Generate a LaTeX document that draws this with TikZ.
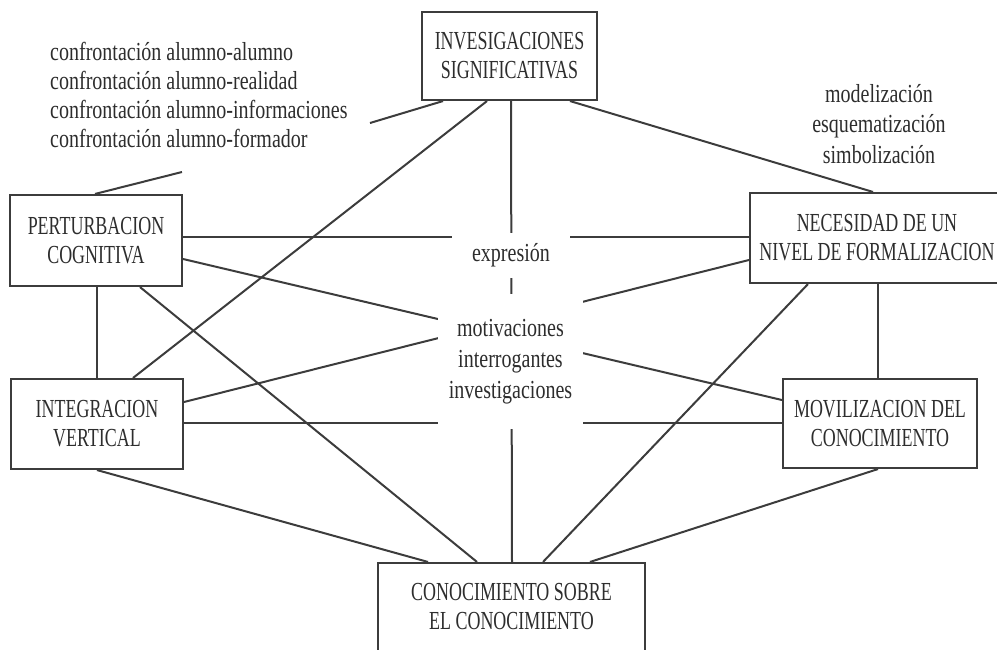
\documentclass[tikz,border=0pt]{standalone}
\usepackage{fontspec}
\setmainfont{Liberation Serif}
\newfontfamily\capsfont{Liberation Serif}[FakeStretch=0.69]
\newfontfamily\lowfont{Liberation Serif}[FakeStretch=0.77]
\definecolor{ink}{RGB}{45,45,45}
\definecolor{linec}{RGB}{60,60,60}
\pgfdeclarelayer{bg}
\pgfsetlayers{bg,main}
\begin{document}
\begin{tikzpicture}[x=1pt,y=-1pt,
  box/.style={draw=linec, line width=2.1pt, align=center, text=ink, inner sep=0pt,
    font=\capsfont\fontsize{26}{29}\selectfont},
  lbl/.style={text=ink, inner sep=0pt, font=\lowfont\fontsize{26}{29}\selectfont},
  hub/.style={lbl, fill=white, align=center},
  link/.style={draw=linec, line width=2pt},
]
\useasboundingbox (0,0) rectangle (997,649);

% boxes
\node[box, minimum width=175pt, minimum height=88pt] (inv) at (509.5,56) {INVESIGACIONES\\SIGNIFICATIVAS};
\node[box, minimum width=172pt, minimum height=91pt] (pert) at (96,240.5) {PERTURBACION\\COGNITIVA};
\node[box, minimum width=172pt, minimum height=90pt] (integ) at (97,424) {INTEGRACION\\VERTICAL};
\node[box, minimum width=254pt, minimum height=90pt] (nec) at (877,238) {NECESIDAD DE UN\\NIVEL DE FORMALIZACION};
\node[box, minimum width=194pt, minimum height=89pt] (movil) at (880,423.5) {MOVILIZACION DEL\\CONOCIMIENTO};
\node[box, minimum width=267pt, minimum height=88pt] (conoc) at (511.5,607) {CONOCIMIENTO SOBRE\\EL CONOCIMIENTO};

% free labels
\node[lbl, align=left, anchor=north west] (confr) at (50,42.2)
  {confrontación alumno-alumno\\confrontación alumno-realidad\\confrontación alumno-informaciones\\confrontación alumno-formador};
\node[lbl, align=center, anchor=north, font=\lowfont\fontsize{26}{30.6}\selectfont] (model) at (879,83.9)
  {modelización\\esquematización\\simbolización};

% central labels (white background interrupts the lines)
\node[hub, minimum width=118pt, minimum height=45pt] (expr) at (511,255.5) {expresión};
\node[hub, minimum width=145pt, minimum height=135pt, font=\lowfont\fontsize{26}{31}\selectfont] (motiv) at (510.5,361.5)
  {motivaciones\\interrogantes\\investigaciones};

\coordinate (cA) at (370,123);
\coordinate (cB) at (182,172);

\begin{pgfonlayer}{bg}
\draw[link] (inv.south -| 443,0) -- (cA);
\draw[link] (pert.north -| 95,0) -- (cB);
\draw[link] (inv.south -| 487,0) -- (integ.north -| 133,0);
\draw[link] (inv.south -| 511,0) -- (conoc.north -| 512,0);
\draw[link] (inv.south -| 570,0) -- (nec.north -| 873,0);
\draw[link] (pert.east |- 0,237) -- (nec.west |- 0,237);
\draw[link] (pert.east |- 0,259) -- (movil.west |- 0,400);
\draw[link] (integ.east |- 0,402) -- (nec.west |- 0,260);
\draw[link] (integ.east |- 0,423) -- (movil.west |- 0,423);
\draw[link] (pert.south -| 97,0) -- (integ.north -| 97,0);
\draw[link] (pert.south -| 140,0) -- (conoc.north -| 477,0);
\draw[link] (integ.south -| 97,0) -- (conoc.north -| 428,0);
\draw[link] (nec.south -| 808,0) -- (conoc.north -| 543,0);
\draw[link] (nec.south -| 878,0) -- (movil.north -| 878,0);
\draw[link] (movil.south -| 878,0) -- (conoc.north -| 590,0);
\end{pgfonlayer}
\end{tikzpicture}
\end{document}
